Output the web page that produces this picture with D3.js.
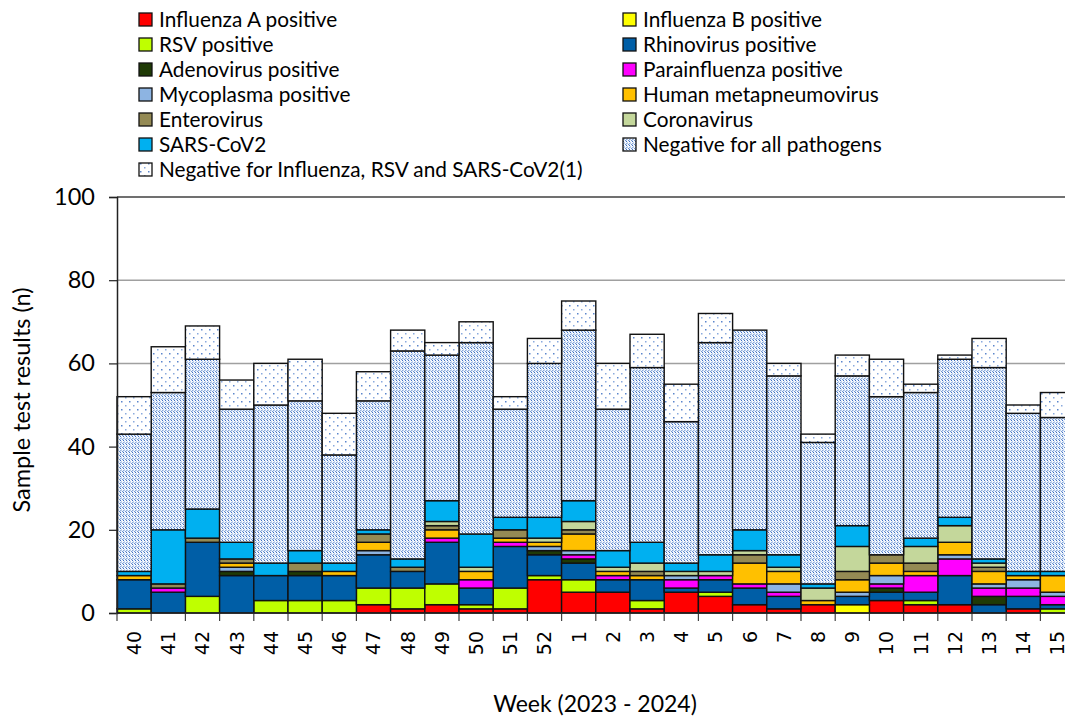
<!DOCTYPE html>
<html>
<head>
<meta charset="utf-8">
<script src="https://cdn.jsdelivr.net/npm/d3@7"></script>
<style>
  html, body { margin: 0; padding: 0; background: #fff; overflow: hidden; }
  svg { display: block; }
</style>
</head>
<body>
<div id="chart"></div>
<script>
// weeks 2023-2024
const weeks = ["40","41","42","43","44","45","46","47","48","49","50","51","52",
               "1","2","3","4","5","6","7","8","9","10","11","12","13","14","15"];

// counts per week
const fluA      = [0,0,0,0,0,0,0,2,1,2,1,1,8, 5,5,1,5,4,2,1,2,0,3,2,2,0,1,0];
const fluB      = [0,0,0,0,0,0,0,0,0,0,0,0,0, 0,0,0,0,0,0,0,0,2,0,0,0,0,0,0];
const rsv       = [1,0,4,0,3,3,3,4,5,5,1,5,1, 3,0,2,0,1,0,0,0,0,0,1,0,0,0,1];
const rhino     = [7,5,13,9,6,6,6,8,4,10,4,10,5, 4,3,5,1,3,4,3,0,2,2,2,7,2,3,1];
const adeno     = [0,0,0,1,0,1,0,0,0,0,0,0,1, 1,0,0,0,0,0,0,0,0,1,0,0,2,0,0];
const parainf   = [0,1,0,0,0,0,0,0,0,1,2,1,0, 1,1,0,2,1,1,1,0,0,1,4,4,2,2,2];
const mycoplasma= [0,0,0,1,0,0,0,1,0,0,0,0,1, 1,0,0,1,0,0,2,0,1,2,0,1,1,2,1];
const hmpv      = [1,0,0,1,0,0,1,2,0,2,2,1,1, 4,1,1,0,0,5,3,1,3,3,1,3,3,1,4];
const entero    = [0,1,1,1,0,2,0,2,1,1,0,2,0, 1,0,1,0,0,2,0,0,2,2,2,0,1,0,0];
const corona    = [0,0,0,0,0,0,0,0,0,1,1,0,1, 2,1,2,1,1,1,1,3,6,0,4,4,1,0,0];
const sarscov2  = [1,13,7,4,3,3,2,1,2,5,8,3,5, 5,4,5,2,4,5,3,1,5,0,2,2,1,1,1];
const negAll    = [33,33,36,32,38,36,26,31,50,35,46,26,37, 41,34,42,34,51,48,43,34,36,38,35,38,46,38,37];
const negFluRsv = [9,11,8,7,10,10,10,7,5,3,5,3,6, 7,11,8,9,7,0,3,2,5,9,2,1,7,2,6];

const seriesNames = [
  "Influenza A positive", "Influenza B positive", "RSV positive", "Rhinovirus positive",
  "Adenovirus positive", "Parainfluenza positive", "Mycoplasma positive", "Human metapneumovirus",
  "Enterovirus", "Coronavirus", "SARS-CoV2", "Negative for all pathogens",
  "Negative for Influenza, RSV and SARS-CoV2(1)"
];
const seriesValues = [fluA, fluB, rsv, rhino, adeno, parainf, mycoplasma, hmpv,
                      entero, corona, sarscov2, negAll, negFluRsv];
const seriesFills = ["#ff0000", "#ffff00", "#bfff00", "#005ea6", "#1f3a06", "#ff00ff",
                     "#8db4e2", "#ffc000", "#948a54", "#c4d79b", "#00b0f0",
                     "url(#dense)", "url(#sparse)"];

const W = 1065, H = 716;
const margin = {left: 117, top: 197};
const step = 34.2;
const plotW = weeks.length * step, plotH = 416;
const font = "Lato, 'Open Sans', sans-serif";

const svg = d3.select("#chart").append("svg")
  .attr("width", W).attr("height", H);

// patterns for the two negative series
const defs = svg.append("defs");
const dense = defs.append("pattern").attr("id", "dense")
  .attr("patternUnits", "userSpaceOnUse").attr("width", 3).attr("height", 4);
dense.append("rect").attr("width", 3).attr("height", 4).attr("fill", "#f4f8fd");
dense.append("rect").attr("x", 0).attr("y", 0).attr("width", 1).attr("height", 1).attr("fill", "#3f70c2");
dense.append("rect").attr("x", 0).attr("y", 2).attr("width", 1).attr("height", 1).attr("fill", "#8eaede");
dense.append("rect").attr("x", 1).attr("y", 1).attr("width", 1).attr("height", 2).attr("fill", "#b9cdec");
dense.append("rect").attr("x", 2).attr("y", 3).attr("width", 1).attr("height", 1).attr("fill", "#6f96d2");
dense.append("rect").attr("x", 0).attr("y", 3).attr("width", 1).attr("height", 1).attr("fill", "#d4e0f3");

const sparse = defs.append("pattern").attr("id", "sparse")
  .attr("patternUnits", "userSpaceOnUse").attr("width", 8).attr("height", 8);
sparse.append("rect").attr("width", 8).attr("height", 8).attr("fill", "#fff");
sparse.append("rect").attr("x", 1).attr("y", 1).attr("width", 1.5).attr("height", 1.5).attr("fill", "#5b86cc");
sparse.append("rect").attr("x", 5).attr("y", 5).attr("width", 1.5).attr("height", 1.5).attr("fill", "#8aaade");

// build table for the stack
const table = weeks.map((w, i) => {
  const row = {week: w};
  seriesNames.forEach((s, k) => { row[s] = seriesValues[k][i]; });
  return row;
});
const stacked = d3.stack().keys(seriesNames)(table);

const x = d3.scaleBand().domain(weeks)
  .range([margin.left, margin.left + plotW]).padding(0);
const y = d3.scaleLinear().domain([0, 100])
  .range([margin.top + plotH, margin.top]);

// gridlines
svg.append("g")
  .selectAll("line")
  .data([20, 40, 60, 80])
  .join("line")
  .attr("x1", margin.left).attr("x2", margin.left + plotW)
  .attr("y1", d => y(d)).attr("y2", d => y(d))
  .attr("stroke", "#a0a0a0").attr("stroke-width", 1.5);

// top border of the plot area
svg.append("line")
  .attr("x1", margin.left).attr("x2", margin.left + plotW)
  .attr("y1", y(100)).attr("y2", y(100))
  .attr("stroke", "#404040").attr("stroke-width", 1.5);

// stacked bars
svg.append("g")
  .selectAll("g")
  .data(stacked)
  .join("g")
  .attr("fill", (d, i) => seriesFills[i])
  .selectAll("rect")
  .data(d => d.filter(p => p[1] > p[0]))
  .join("rect")
  .attr("x", d => x(d.data.week))
  .attr("width", x.bandwidth())
  .attr("y", d => y(d[1]))
  .attr("height", d => y(d[0]) - y(d[1]))
  .attr("stroke", "#111")
  .attr("stroke-width", 1.4);

// y axis
const yAxis = svg.append("g")
  .attr("transform", `translate(${margin.left},0)`)
  .call(d3.axisLeft(y).tickValues([0, 20, 40, 60, 80, 100]).tickSize(8).tickPadding(14));
yAxis.select(".domain").attr("stroke", "#222").attr("stroke-width", 1.5);
yAxis.selectAll(".tick line").attr("stroke", "#222").attr("stroke-width", 1.2);
yAxis.selectAll("text")
  .attr("font-family", font)
  .attr("font-size", 23.5).attr("fill", "#000");

// x axis: labels rotated, ticks on category boundaries
const xAxis = svg.append("g")
  .attr("transform", `translate(0,${y(0)})`)
  .call(d3.axisBottom(x).tickSize(0).tickPadding(0));
xAxis.select(".domain").remove();
xAxis.selectAll("text")
  .attr("transform", "rotate(-90)")
  .attr("x", -18).attr("y", 0).attr("dy", "0.36em")
  .attr("text-anchor", "end")
  .attr("font-family", "'DejaVu Sans', sans-serif")
  .attr("font-size", 19).attr("fill", "#000");

svg.append("g")
  .selectAll("line")
  .data(weeks.concat(["end"]))
  .join("line")
  .attr("x1", d => d === "end" ? x.range()[1] : x(d))
  .attr("x2", d => d === "end" ? x.range()[1] : x(d))
  .attr("y1", y(0)).attr("y2", y(0) + 8)
  .attr("stroke", "#444").attr("stroke-width", 1.2);

svg.append("line")
  .attr("x1", margin.left).attr("x2", margin.left + plotW)
  .attr("y1", y(0)).attr("y2", y(0))
  .attr("stroke", "#222").attr("stroke-width", 1.5);

// axis titles
svg.append("text")
  .attr("transform", `translate(30,${margin.top + plotH / 2 - 5}) rotate(-90)`)
  .attr("text-anchor", "middle")
  .attr("font-family", font)
  .attr("font-size", 23.5)
  .text("Sample test results (n)");

svg.append("text")
  .attr("x", 595).attr("y", 712)
  .attr("text-anchor", "middle")
  .attr("font-family", font)
  .attr("font-size", 23)
  .text("Week (2023 - 2024)");

// legend, two columns
const legend = svg.append("g");
const items = legend.selectAll("g")
  .data(seriesNames)
  .join("g")
  .attr("transform", (d, i) => `translate(${i % 2 === 0 ? 139 : 623},${20 + 25 * Math.floor(i / 2)})`);
items.append("rect")
  .attr("x", 0).attr("y", -7).attr("width", 13).attr("height", 13)
  .attr("fill", (d, i) => seriesFills[i])
  .attr("stroke", "#111").attr("stroke-width", 1.3);
items.append("text")
  .attr("x", 20).attr("y", 0).attr("dy", "0.35em")
  .attr("font-family", font)
  .attr("font-size", 20.8)
  .text(d => d);
</script>
</body>
</html>
